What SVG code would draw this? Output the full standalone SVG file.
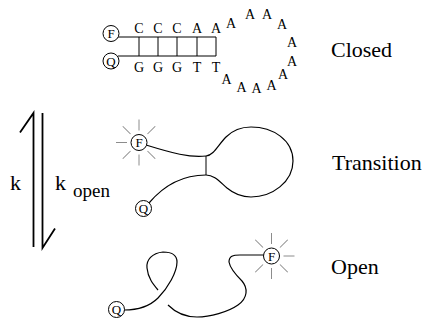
<svg xmlns="http://www.w3.org/2000/svg" width="425" height="326" viewBox="0 0 425 326" font-family="'Liberation Serif', 'Times New Roman', serif">
  <style>
    text { font-family: 'Liberation Serif', 'Times New Roman', serif; fill: #000; }
    .base { font-size: 14px; text-anchor: middle; }
    .dye { font-size: 13px; text-anchor: middle; }
    .label { font-size: 22px; }
    .strand { fill: none; stroke: #000; stroke-width: 1.2; }
    .rung { fill: none; stroke: #000; stroke-width: 1; }
    .ring { fill: #fff; stroke: #000; stroke-width: 1; }
    .ray { stroke: #8c8c8c; stroke-width: 1; }
    .rate { fill: none; stroke: #000; stroke-width: 1.8; }
  </style>
  <defs>
    <!-- glow rays around an emitting fluorophore; the side taken by the strand is left out per use -->
    <g id="ray-n"><line class="ray" x1="0" y1="-12" x2="0" y2="-23"/></g>
  </defs>

  <!-- Closed hairpin: F/Q stem and poly-A loop -->
  <g id="closed">
    <path class="rung" d="M118,37 H216 M118,56 H216 M139,37 V56 M158,37 V56 M177,37 V56 M197,37 V56 M216,37 V56"/>
    <circle class="ring" cx="111" cy="33.5" r="8"/>
    <text class="dye" x="111" y="38">F</text>
    <circle class="ring" cx="111" cy="61" r="8"/>
    <text class="dye" x="111" y="65.5">Q</text>
    <text class="base" x="139" y="33">C</text>
    <text class="base" x="158" y="33">C</text>
    <text class="base" x="177" y="33">C</text>
    <text class="base" x="197" y="33">A</text>
    <text class="base" x="216" y="33">A</text>
    <text class="base" x="139" y="72">G</text>
    <text class="base" x="158" y="72">G</text>
    <text class="base" x="177" y="72">G</text>
    <text class="base" x="197" y="72">T</text>
    <text class="base" x="216" y="72">T</text>
    <text class="base" x="231" y="28">A</text>
    <text class="base" x="250" y="19">A</text>
    <text class="base" x="267" y="19">A</text>
    <text class="base" x="282" y="28.5">A</text>
    <text class="base" x="292" y="47">A</text>
    <text class="base" x="292" y="65.5">A</text>
    <text class="base" x="283" y="79">A</text>
    <text class="base" x="271.5" y="90">A</text>
    <text class="base" x="256.5" y="93">A</text>
    <text class="base" x="241.5" y="92">A</text>
    <text class="base" x="226.5" y="84">A</text>
  </g>

  <!-- Transition: partially unzipped stem -->
  <g id="transition">
    <path class="strand" d="M146,145 C172,153 190,158 206,156 C214,155 218,145 226,137 C233,130 241,127 251,127 C273,127 293,140 293,161 C293,182 272,197 251,197 C241,197 233,193 227,188 C219,181 214,175 206,175 C184,175 165,184 149,203"/>
    <path class="rung" d="M206,156 V175"/>
    <g transform="translate(139,142.5)">
      <use href="#ray-n"/>
      <use href="#ray-n" transform="rotate(-45)"/>
      <use href="#ray-n" transform="rotate(-90)"/>
      <use href="#ray-n" transform="rotate(-135)"/>
      <use href="#ray-n" transform="rotate(180)"/>
      <use href="#ray-n" transform="rotate(135)"/>
      <use href="#ray-n" transform="rotate(45)"/>
    </g>
    <circle class="ring" cx="139" cy="142.5" r="8"/>
    <text class="dye" x="139" y="147">F</text>
    <circle class="ring" cx="143.5" cy="208.5" r="8"/>
    <text class="dye" x="143.5" y="213">Q</text>
  </g>

  <!-- Open: random coil, strand passes behind itself -->
  <g id="open">
    <path class="strand" d="M124,310 C140,310 150,306 158,298 C168,288 177,272 177,262 C177,254 170,252 163,252 C152,253 146,260 147,268 C148,278 153,284 158,290"/>
    <path class="strand" d="M168,305 C175,312 185,317 197,317 C210,317 228,312 238,305 C248,298 248,288 242,281 C235,274 230,268 229,262 C229,256 233,255 240,255 L264,255"/>
    <g transform="translate(271.5,256)">
      <use href="#ray-n"/>
      <use href="#ray-n" transform="rotate(45)"/>
      <use href="#ray-n" transform="rotate(90)"/>
      <use href="#ray-n" transform="rotate(135)"/>
      <use href="#ray-n" transform="rotate(180)"/>
      <use href="#ray-n" transform="rotate(-135)"/>
      <use href="#ray-n" transform="rotate(-45)"/>
    </g>
    <circle class="ring" cx="271.5" cy="256" r="8"/>
    <text class="dye" x="271.5" y="260.5">F</text>
    <circle class="ring" cx="116.5" cy="309.5" r="8"/>
    <text class="dye" x="116.5" y="314">Q</text>
  </g>

  <!-- State names -->
  <g id="state-labels">
    <text class="label" x="331" y="56.5">Closed</text>
    <text class="label" x="332" y="170">Transition</text>
    <text class="label" x="331" y="274">Open</text>
  </g>

  <!-- Equilibrium half-arrows with rate constants -->
  <g id="connectors">
    <path class="rate" d="M33.5,247 V113 L20,132.5"/>
    <path class="rate" d="M42.5,113 V248 L55,228.5"/>
  </g>
  <g id="rates">
    <text class="label" x="10" y="190">k</text>
    <text class="label" x="55" y="190">k</text>
    <text x="73" y="197" style="font-size:19px">open</text>
  </g>
</svg>
